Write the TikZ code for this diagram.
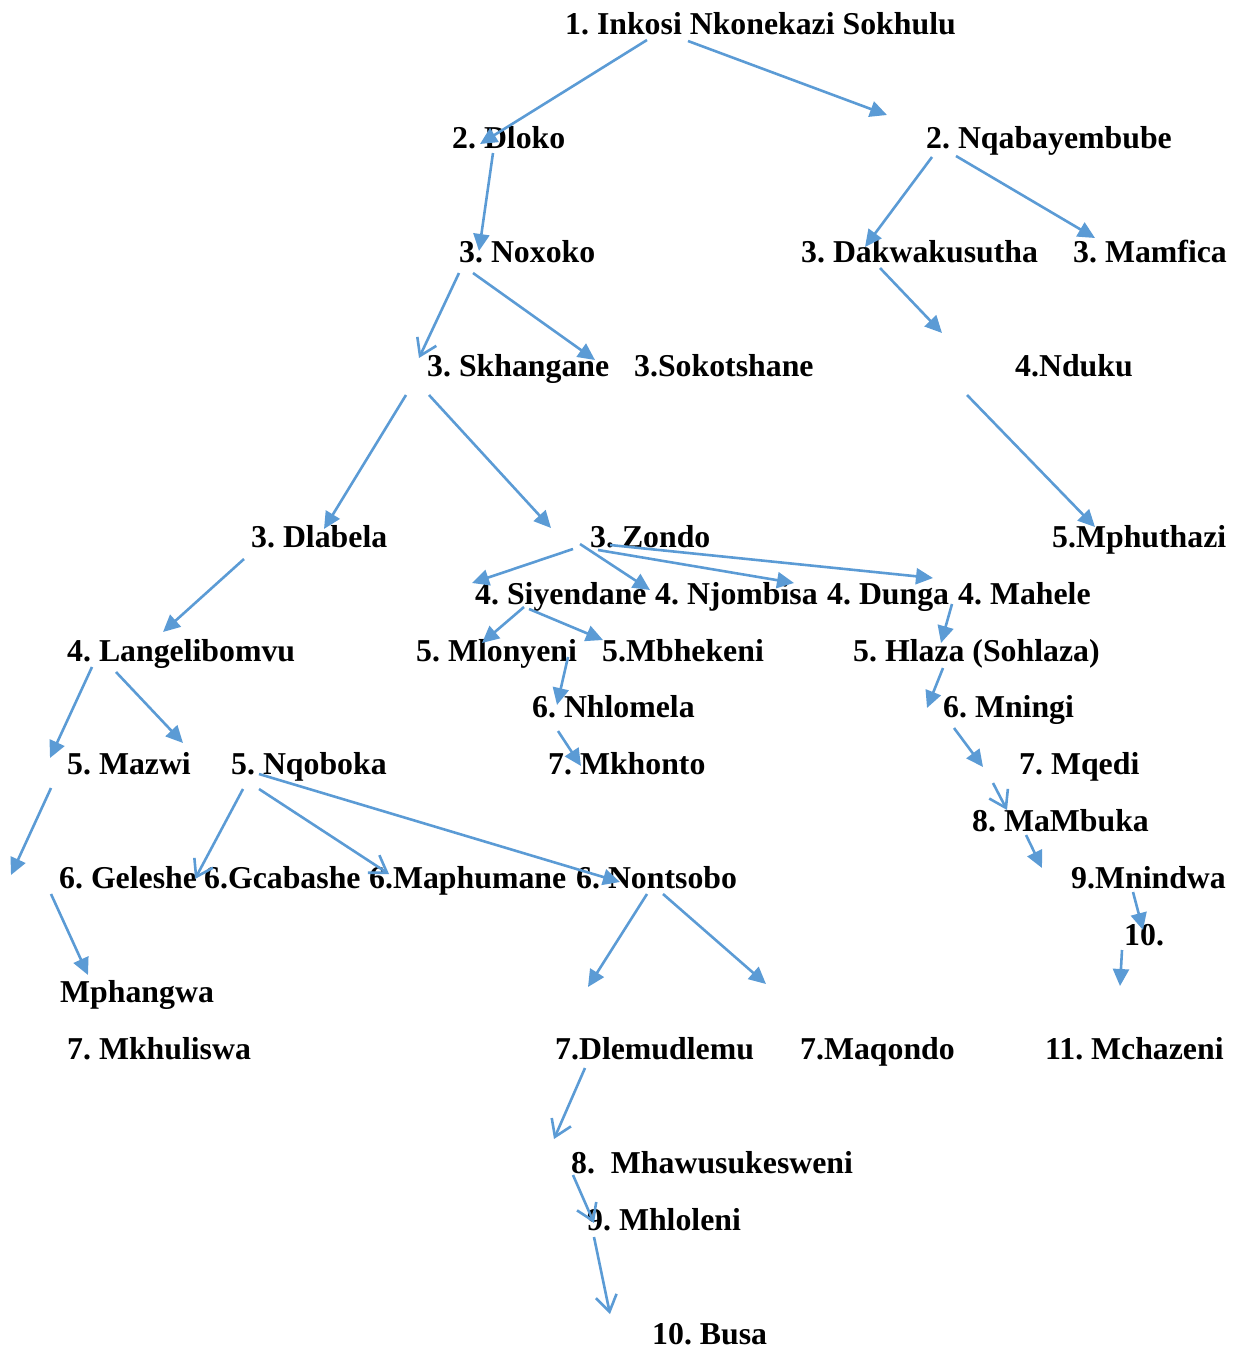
\documentclass[tikz,border=0pt]{standalone}
\usepackage{fontspec}
\setmainfont{Liberation Serif}
\usetikzlibrary{arrows.meta}
\definecolor{arrowblue}{HTML}{5B9BD5}
\frenchspacing

\begin{document}
\begin{tikzpicture}[x=1pt, y=-1pt,
    person/.style={inner sep=0pt, anchor=base west, font=\fontsize{31.8}{38}\selectfont\bfseries},
    link/.style={arrowblue, line width=2.6pt, -{Triangle[length=17pt,width=16pt]}},
    openlink/.style={arrowblue, line width=2.6pt, -{Straight Barb[length=16pt,width=21pt]}}]
          \useasboundingbox (0,0) rectangle (1237,1349);
          % generation 1 and 2
          \node[person] (inkosi) at (565,34.5) {1. Inkosi Nkonekazi Sokhulu};
          \node[person] (dloko) at (452,148.4) {2. Dloko};
          \node[person] (nqaba) at (926,148.4) {2. Nqabayembube};
          % generation 3
          \node[person] (noxoko) at (459,262.3) {3. Noxoko};
          \node[person] (dakwa) at (801,262.3) {3. Dakwakusutha};
          \node[person] (mamfica) at (1073,262.3) {3. Mamfica};
          \node[person] (skhangane) at (427,376.2) {3. Skhangane};
          \node[person] (sokotshane) at (634,376.2) {3.Sokotshane};
          \node[person] (nduku) at (1015,376.2) {4.Nduku};
          \node[person] (dlabela) at (251,547.1) {3. Dlabela};
          \node[person] (zondo) at (590,547.1) {3. Zondo};
          \node[person] (mphuthazi) at (1052,547.1) {5.Mphuthazi};
          % generation 4 and 5
          \node[person] (siyendane) at (475,604) {4. Siyendane};
          \node[person] (njombisa) at (655,604) {4. Njombisa};
          \node[person] (dunga) at (827,604) {4. Dunga};
          \node[person] (mahele) at (958,604) {4. Mahele};
          \node[person] (langeli) at (67,661) {4. Langelibomvu};
          \node[person] (mlonyeni) at (416,661) {5. Mlonyeni};
          \node[person] (mbhekeni) at (602,661) {5.Mbhekeni};
          \node[person] (hlaza) at (853,661) {5. Hlaza (Sohlaza)};
          \node[person] (nhlomela) at (532,717.9) {6. Nhlomela};
          \node[person] (mningi) at (943,717.9) {6. Mningi};
          \node[person] (mazwi) at (67,774.9) {5. Mazwi};
          \node[person] (nqoboka) at (231,774.9) {5. Nqoboka};
          \node[person] (mkhonto) at (548,774.9) {7. Mkhonto};
          \node[person] (mqedi) at (1019,774.9) {7. Mqedi};
          \node[person] (mambuka) at (972,831.8) {8. MaMbuka};
          % generation 6 and below
          \node[person] (geleshe) at (59,888.8) {6. Geleshe};
          \node[person] (gcabashe) at (204,888.8) {6.Gcabashe};
          \node[person] (maphumane) at (369,888.8) {6.Maphumane};
          \node[person] (nontsobo) at (576,888.8) {6. Nontsobo};
          \node[person] (mnindwa) at (1071,888.8) {9.Mnindwa};
          \node[person] (ten) at (1124,945.7) {10.};
          \node[person] (mphangwa) at (60,1002.7) {Mphangwa};
          \node[person] (mkhuliswa) at (67,1059.6) {7. Mkhuliswa};
          \node[person] (dlemu) at (555,1059.6) {7.Dlemudlemu};
          \node[person] (maqondo) at (800,1059.6) {7.Maqondo};
          \node[person] (mchazeni) at (1045,1059.6) {11. Mchazeni};
          \node[person] (mhawu) at (571,1173.5) {8.~~Mhawusukesweni};
          \node[person] (mhloleni) at (587,1230.5) {9. Mhloleni};
          \node[person] (busa) at (652,1344.4) {10. Busa};
          \coordinate (mazwikid) at (11,875);
          % Directed edges
          \draw[link] ([shift={(82,5.5)}]inkosi.base west) -- ([shift={(28,-4.4)}]dloko.base west);
          \draw[link] ([shift={(123,6.5)}]inkosi.base west) -- ([shift={(-39,-33.4)}]nqaba.base west);
          \draw[link] ([shift={(41,4.6)}]dloko.base west) -- ([shift={(20,-11.3)}]noxoko.base west);
          \draw[link] ([shift={(6,8.6)}]nqaba.base west) -- ([shift={(64,-15.3)}]dakwa.base west);
          \draw[link] ([shift={(30,7.6)}]nqaba.base west) -- ([shift={(22,-24.3)}]mamfica.base west);
          \draw[openlink] ([shift={(0,10.7)}]noxoko.base west) -- ([shift={(-8,-18.2)}]skhangane.base west);
          \draw[link] ([shift={(14,10.7)}]noxoko.base west) -- ([shift={(-39,-16.2)}]sokotshane.base west);
          \draw[link] ([shift={(79,5.7)}]dakwa.base west) -- ([shift={(-73,-43.2)}]nduku.base west);
          \draw[link] ([shift={(-21,18.8)}]skhangane.base west) -- ([shift={(73,-18.1)}]dlabela.base west);
          \draw[link] ([shift={(2,18.8)}]skhangane.base west) -- ([shift={(-39,-19.1)}]zondo.base west);
          \draw[link] ([shift={(-48,18.8)}]nduku.base west) -- ([shift={(43,-20.1)}]mphuthazi.base west);
          \draw[link] ([shift={(-7,11.9)}]dlabela.base west) -- ([shift={(96,-29)}]langeli.base west);
          \draw[link] ([shift={(-17,1.9)}]zondo.base west) -- ([shift={(-3,-21)}]siyendane.base west);
          \draw[link] ([shift={(-10,-3.1)}]zondo.base west) -- ([shift={(-5,-14)}]njombisa.base west);
          \draw[link] ([shift={(8,2.9)}]zondo.base west) -- ([shift={(-33,-21)}]dunga.base west);
          \draw[link] ([shift={(20,-2.1)}]zondo.base west) -- ([shift={(-25,-26)}]mahele.base west);
          \draw[link] ([shift={(49,3)}]siyendane.base west) -- ([shift={(66,-18)}]mlonyeni.base west);
          \draw[link] ([shift={(54,5)}]siyendane.base west) -- ([shift={(1,-21)}]mbhekeni.base west);
          \draw[link] ([shift={(152,-4)}]mlonyeni.base west) -- ([shift={(25,-12.9)}]nhlomela.base west);
          \draw[link] ([shift={(26,13.1)}]nhlomela.base west) -- ([shift={(33,-8.9)}]mkhonto.base west);
          \draw[link] ([shift={(-6,0)}]mahele.base west) -- ([shift={(88,-18)}]hlaza.base west);
          \draw[link] ([shift={(90,7)}]hlaza.base west) -- ([shift={(-16,-9.9)}]mningi.base west);
          \draw[link] ([shift={(11,10.1)}]mningi.base west) -- ([shift={(-36,-7.9)}]mqedi.base west);
          \draw[openlink] ([shift={(-26,8.1)}]mqedi.base west) -- ([shift={(35,-21.8)}]mambuka.base west);
          \draw[link] ([shift={(54,3.2)}]mambuka.base west) -- ([shift={(-29,-20.8)}]mnindwa.base west);
          \draw[link] ([shift={(62,3.2)}]mnindwa.base west) -- ([shift={(19,-15.7)}]ten.base west);
          \draw[link] ([shift={(-2,4.3)}]ten.base west) -- ([shift={(75,-73.6)}]mchazeni.base west);
          \draw[link] ([shift={(25,6)}]langeli.base west) -- ([shift={(-17,-16.9)}]mazwi.base west);
          \draw[link] ([shift={(49,11)}]langeli.base west) -- ([shift={(-48,-31.9)}]nqoboka.base west);
          \draw[link] ([shift={(-16,13.1)}]mazwi.base west) -- (mazwikid);
          \draw[link] ([shift={(-8,5.2)}]geleshe.base west) -- ([shift={(28,-27.7)}]mphangwa.base west);
          \draw[openlink] ([shift={(12,14.1)}]nqoboka.base west) -- ([shift={(136,-9.8)}]geleshe.base west);
          \draw[openlink] ([shift={(28,14.1)}]nqoboka.base west) -- ([shift={(20,-14.8)}]maphumane.base west);
          \draw[link] ([shift={(28,-0.9)}]nqoboka.base west) -- ([shift={(44,-6.8)}]nontsobo.base west);
          \draw[link] ([shift={(71,5.2)}]nontsobo.base west) -- ([shift={(33,-72.6)}]dlemu.base west);
          \draw[link] ([shift={(87,5.2)}]nontsobo.base west) -- ([shift={(-34,-75.6)}]maqondo.base west);
          \draw[openlink] ([shift={(30,8.4)}]dlemu.base west) -- ([shift={(-17,-34.5)}]mhawu.base west);
          \draw[openlink] ([shift={(2,1.5)}]mhawu.base west) -- ([shift={(7,-7.5)}]mhloleni.base west);
          \draw[openlink] ([shift={(7,6.5)}]mhloleni.base west) -- ([shift={(-42,-30.4)}]busa.base west);
        \end{tikzpicture}
\end{document}
